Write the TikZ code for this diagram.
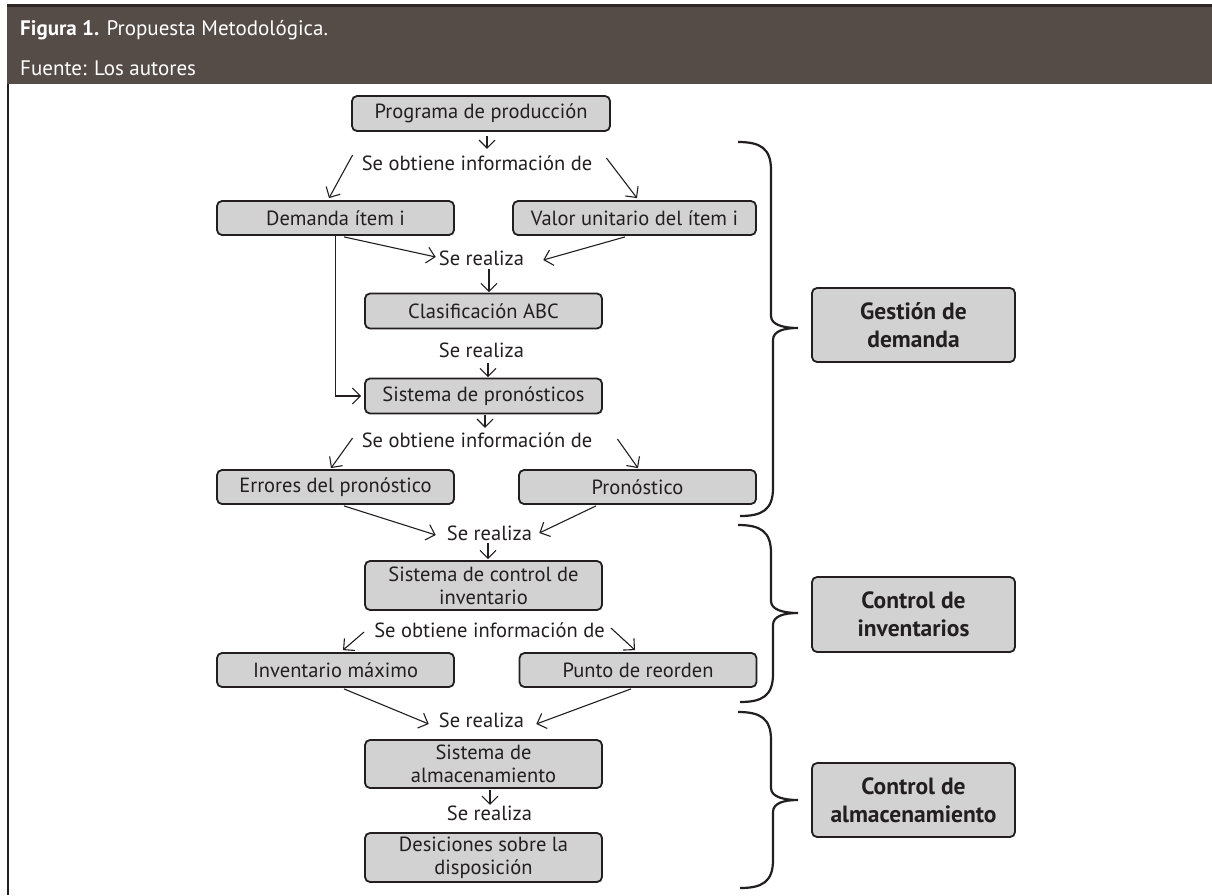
\documentclass[tikz,border=0pt]{standalone}
\usepackage{fontspec}
\setmainfont{PT Sans}
\usetikzlibrary{arrows.meta,calc}
\definecolor{hdr}{RGB}{85,76,72}
\definecolor{hdrline}{RGB}{45,40,38}
\definecolor{boxfill}{RGB}{210,210,210}
\definecolor{ink}{RGB}{35,31,32}
\begin{document}
\begin{tikzpicture}[x=1pt,y=-1pt,
  font=\fontsize{20.5}{23}\selectfont,
  box/.style={draw=ink, line width=1.8pt, fill=boxfill, rounded corners=5pt,
    minimum width=237pt, minimum height=34pt, inner sep=0pt, align=center, text=ink},
  tallbox/.style={box, minimum height=49pt},
  grpbox/.style={box, minimum width=203pt, minimum height=74pt,
    font=\fontsize{23.5}{28}\selectfont\bfseries},
  lbl/.style={inner sep=0pt, text=ink, text height=14pt, text depth=4pt},
  arr/.style={draw=ink, line width=1.1pt, -{Straight Barb[length=8pt,width=16pt]}},
  bracestyle/.style={draw=ink, line width=2.2pt},
  hdrtext/.style={anchor=base west, inner sep=0pt, text=white, font=\fontsize{21}{24}\selectfont}
]
\useasboundingbox (0,0) rectangle (1212,895);
\fill[white] (0,0) rectangle (1212,895);
% header
\fill[hdr] (7,4) rectangle (1212,84);
\fill[hdrline] (7,4) rectangle (1212,7);
\draw[ink, line width=2pt] (8,84) -- (8,895);
\node[hdrtext] (fig) at (20,35) {\textbf{Figura 1.} Propuesta Metodológica.};
\node[hdrtext] (src) at (20,75) {Fuente: Los autores};

% boxes
\node[box, minimum width=258pt, minimum height=35pt] (prog) at (481,113.5) {Programa de producción};
\node[box] (dem) at (335.5,218) {Demanda ítem i};
\node[box, minimum width=243pt] (val) at (634.5,218) {Valor unitario del ítem i};
\node[box, minimum height=35pt] (clas) at (483.5,311) {Clasificación ABC};
\node[box, minimum height=35pt] (sisp) at (483.5,396) {Sistema de pronósticos};
\node[box] (err) at (335.5,487) {Errores del pronóstico};
\node[box] (pron) at (637.5,487) {Pronóstico};
\node[tallbox] (sisc) at (483.5,585.5) {Sistema de control de\\inventario};
\node[box] (invm) at (335.5,670) {Inventario máximo};
\node[box] (pr) at (638,670) {Punto de reorden};
\node[tallbox, minimum height=48pt] (sisa) at (483.5,764) {Sistema de\\almacenamiento};
\node[tallbox] (des) at (483.5,857.5) {Desiciones sobre la\\disposición};

% labels
\node[lbl] (so1) at (477,165) {Se obtiene información de};
\node[lbl] (sr1) at (481.5,260) {Se realiza};
\node[lbl] (sr2) at (481.5,352) {Se realiza};
\node[lbl] (so2) at (477,442) {Se obtiene información de};
\node[lbl] (sr3) at (489.5,535) {Se realiza};
\node[lbl] (so3) at (489.5,632) {Se obtiene información de};
\node[lbl] (sr4) at (481.5,722) {Se realiza};
\node[lbl] (sr5) at (489.5,815) {Se realiza};

% group boxes
\node[grpbox] (gd) at (913.5,325) {Gestión de\\demanda};
\node[grpbox, minimum height=75pt] (ci) at (913.5,614.5) {Control de\\inventarios};
\node[grpbox] (ca) at (913.5,800) {Control de\\almacenamiento};

% arrows
\draw[arr] ([shift={(6,4)}]prog.south) -- ([shift={(10,-7)}]so1.north);
\draw[arr] ([shift={(-9,-10)}]so1.west) -- ([shift={(-6.5,-2)}]dem.north);
\draw[arr] ([shift={(14,-7)}]so1.east) -- ([shift={(2.5,-2)}]val.north);
\draw[arr] ([shift={(8.5,1)}]dem.south) -- ([shift={(-3,-3)}]sr1.west);
\draw[arr] ([shift={(-9.5,1)}]val.south) -- ([shift={(19,0)}]sr1.east);
\draw[arr] ([shift={(7.5,0)}]sr1.south) -- ([shift={(5.5,-0.5)}]clas.north);
\draw[arr] (dem.south) |- ([shift={(-3,0)}]sisp.west);
\draw[arr] ([shift={(6.5,2)}]sr2.south) -- ([shift={(4.5,-0.5)}]sisp.north);
\draw[arr] ([shift={(1.5,0.5)}]sisp.south) -- ([shift={(8,-5)}]so2.north);
\draw[arr] ([shift={(-9,-4)}]so2.west) -- ([shift={(-4.5,-1)}]err.north);
\draw[arr] ([shift={(25,-3)}]so2.east) -- ([shift={(0.5,-1)}]pron.north);
\draw[arr] ([shift={(8.5,1)}]err.south) -- ([shift={(-11,0)}]sr3.west);
\draw[arr] ([shift={(-41.5,1)}]pron.south) -- ([shift={(7,-2)}]sr3.east);
\draw[arr] ([shift={(-1.5,-1)}]sr3.south) -- ([shift={(4.5,-1)}]sisc.north);
\draw[arr] ([shift={(-10,0)}]so3.west) -- ([shift={(7.5,-2)}]invm.north);
\draw[arr] ([shift={(6,-4)}]so3.east) -- ([shift={(-3,-2)}]pr.north);
\draw[arr] ([shift={(8.5,1)}]invm.south) -- ([shift={(-10,2)}]sr4.west);
\draw[arr] ([shift={(-7,1)}]pr.south) -- ([shift={(12,2)}]sr4.east);
\draw[arr] ([shift={(6.5,1)}]sisa.south) -- ([shift={(0.5,-1)}]sr5.north);

% braces
\newcommand\grpbrace[3]{%
  \draw[bracestyle] (738,#1) .. controls (760,#1) and (771,#1+6) .. (771,#1+28)
    -- (771,#2-12) .. controls (771,#2-3) and (784,#2) .. (798,#2)
    .. controls (784,#2) and (773,#2+3) .. (773,#2+12)
    -- (773,#3-28) .. controls (773,#3-6) and (762,#3) .. (740,#3);}
\grpbrace{142}{328}{516}
\grpbrace{525}{613}{702}
\grpbrace{712}{800}{888}
\end{tikzpicture}
\end{document}
